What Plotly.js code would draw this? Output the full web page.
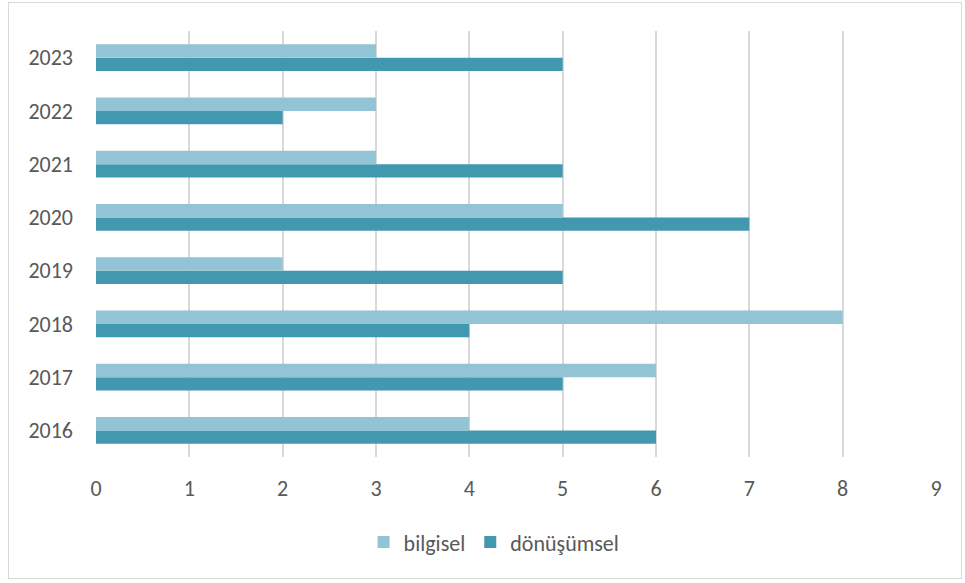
<!DOCTYPE html>
<html><head><meta charset="utf-8">
<script src="https://cdn.plot.ly/plotly-3.0.1.min.js"></script>
<style>html,body{margin:0;padding:0;background:#fff}#frame{position:absolute;left:8px;top:2px;width:952px;height:575px;border:1px solid #d9d9d9;pointer-events:none}</style>
</head><body>
<div id="chart" style="width:965px;height:583px"></div>
<div id="frame"></div>
<script>
const years = ['2016','2017','2018','2019','2020','2021','2022','2023'];
const bilgisel = [4,6,8,2,5,3,3,3];
const donusumsel = [6,5,4,5,7,5,2,5];
const xTicks = [0,1,2,3,4,5,6,7,8,9];

const font = {family:'Carlito, "Open Sans", "Liberation Sans", sans-serif', color:'#595959', size:22};
const traces = [
  {type:'bar', orientation:'h', name:'dönüşümsel', y:years, x:donusumsel, marker:{color:'#4198af'}},
  {type:'bar', orientation:'h', name:'bilgisel', y:years, x:bilgisel, marker:{color:'#93c4d5'}}
];
const layout = {
  width:965, height:583,
  margin:{l:96, r:29, t:31, b:126},
  barmode:'group', bargap:0.5, bargroupgap:0,
  font:font,
  paper_bgcolor:'#fff', plot_bgcolor:'#fff',
  xaxis:{range:[0,9], tickvals:xTicks, showgrid:true, gridcolor:'#d9d9d9', gridwidth:2, zeroline:false, showline:false, ticks:'', ticklabelstandoff:16, tickfont:font, fixedrange:true},
  yaxis:{type:'category', categoryarray:years, showgrid:false, zeroline:false, showline:false, ticks:'', ticklabelstandoff:22, tickfont:font},
  showlegend:true,
  legend:{orientation:'h', traceorder:'reversed', xref:'container', yref:'container', x:0.512, xanchor:'center', y:0.07, yanchor:'middle', font:font, itemwidth:30}
};
Plotly.newPlot('chart', traces, layout, {displayModeBar:false, staticPlot:true});
</script>
</body></html>
